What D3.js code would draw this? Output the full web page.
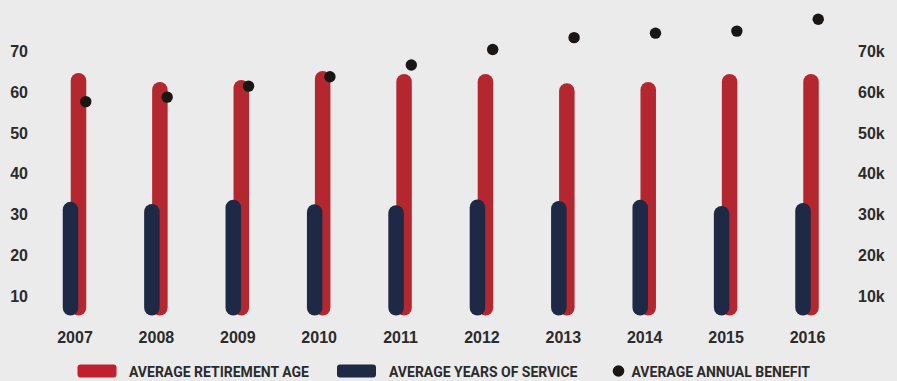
<!DOCTYPE html>
<html>
<head>
<meta charset="utf-8">
<script src="https://cdn.jsdelivr.net/npm/d3@7"></script>
<style>
  html, body { margin: 0; padding: 0; background: #ebebeb; }
  svg { display: block; }
</style>
</head>
<body>
<svg id="chart" width="897" height="381"></svg>
<script>
const years = ["2007","2008","2009","2010","2011","2012","2013","2014","2015","2016"];
const retirementAge = [64.7, 62.5, 63.0, 65.2, 64.5, 64.5, 62.2, 62.5, 64.5, 64.5];
const yearsOfService = [33.1, 32.6, 33.6, 32.5, 32.3, 33.7, 33.3, 33.6, 32.1, 32.8];
const annualBenefit = [57.7, 58.8, 61.5, 63.8, 66.7, 70.5, 73.4, 74.5, 75.0, 77.9]; // thousands
const leftTicks = [10, 20, 30, 40, 50, 60, 70];
const rightTicks = [10, 20, 30, 40, 50, 60, 70]; // thousands
const barBase = 5.2;
const legendLabels = ["AVERAGE RETIREMENT AGE", "AVERAGE YEARS OF SERVICE", "AVERAGE ANNUAL BENEFIT"];

const W = 897, H = 381;
const svg = d3.select("#chart");
const RED = "#b5272f", NAVY = "#1e2946", DOT = "#1a1614", TXT = "#2b2b2b";

const x = d3.scalePoint().domain(years).range([74.5, 807]);
const yL = d3.scaleLinear().domain([10, 70]).range([296, 51.5]);
const yR = d3.scaleLinear().domain([10, 70]).range([296, 51.5]);

const barW = 15.5;
const offs = 4;

// red bars
svg.append("g").selectAll("rect").data(years).join("rect")
  .attr("x", (d) => x(d) + offs - barW / 2)
  .attr("y", (d, i) => yL(retirementAge[i]))
  .attr("width", barW)
  .attr("height", (d, i) => yL(barBase) - yL(retirementAge[i]))
  .attr("rx", barW / 2)
  .attr("fill", RED);

// navy bars
svg.append("g").selectAll("rect").data(years).join("rect")
  .attr("x", (d) => x(d) - offs - barW / 2)
  .attr("y", (d, i) => yL(yearsOfService[i]))
  .attr("width", barW)
  .attr("height", (d, i) => yL(barBase) - yL(yearsOfService[i]))
  .attr("rx", barW / 2)
  .attr("fill", NAVY);

// dots
svg.append("g").selectAll("circle").data(years).join("circle")
  .attr("cx", (d) => x(d) + offs + barW / 2 - 0.5)
  .attr("cy", (d, i) => yR(annualBenefit[i]))
  .attr("r", 5.7)
  .attr("fill", DOT);

const font = "'Liberation Sans', Arial, sans-serif";

// left axis
const la = svg.append("g").attr("transform", "translate(28,0)")
  .call(d3.axisLeft(yL).tickValues(leftTicks).tickSize(0).tickPadding(0).tickFormat(d3.format("d")));
la.select(".domain").remove();
la.selectAll("text").attr("fill", TXT).style("font-family", font).style("font-weight", "bold").style("font-size", "16px");

// right axis
const ra = svg.append("g").attr("transform", "translate(858,0)")
  .call(d3.axisRight(yR).tickValues(rightTicks).tickSize(0).tickPadding(0).tickFormat((d) => d + "k"));
ra.select(".domain").remove();
ra.selectAll("text").attr("fill", TXT).style("font-family", font).style("font-weight", "bold").style("font-size", "16px");

// bottom axis
const ba = svg.append("g").attr("transform", "translate(0,332)")
  .call(d3.axisBottom(x).tickSize(0).tickPadding(0));
ba.select(".domain").remove();
ba.selectAll("text").attr("fill", TXT).attr("dy", "0.71em").style("font-family", font).style("font-weight", "bold").style("font-size", "16px");

// legend
const lg = svg.append("g").attr("transform", "translate(0,371)");
const lfont = "Roboto, 'Liberation Sans', sans-serif";
lg.append("rect").attr("x", 77.5).attr("y", -6.5).attr("width", 39).attr("height", 13).attr("rx", 3).attr("fill", "#c01f30");
lg.append("text").attr("x", 129).attr("y", 5.5).text(legendLabels[0]);
lg.append("rect").attr("x", 337).attr("y", -6.5).attr("width", 39).attr("height", 13).attr("rx", 3).attr("fill", NAVY);
lg.append("text").attr("x", 389).attr("y", 5.5).text(legendLabels[1]);
lg.append("circle").attr("cx", 618.5).attr("cy", 0).attr("r", 5.8).attr("fill", DOT);
lg.append("text").attr("x", 631.5).attr("y", 5.5).text(legendLabels[2]);
lg.selectAll("text").attr("fill", TXT).style("font-family", lfont).style("font-weight", "bold").style("font-size", "14px");
</script>
</body>
</html>
